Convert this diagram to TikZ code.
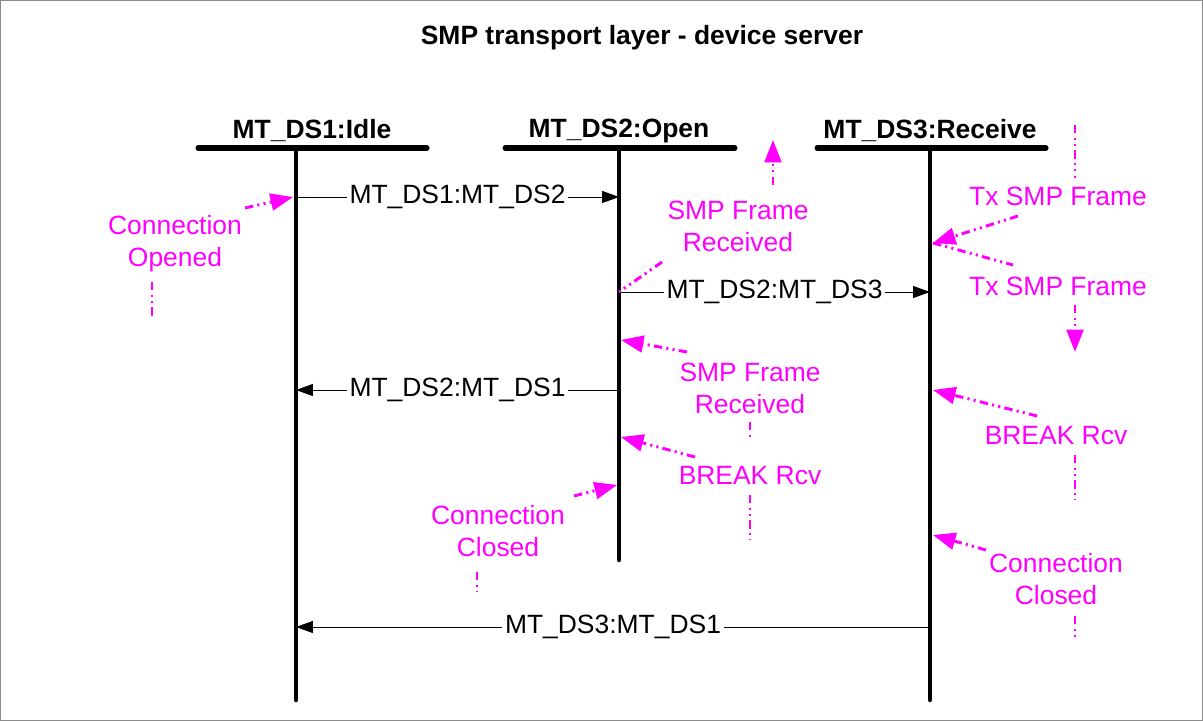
\documentclass[tikz,border=0pt]{standalone}
\usepackage{fontspec}
\setmainfont{Liberation Sans}
\usetikzlibrary{arrows.meta}
\definecolor{rosa}{RGB}{255,0,255}
\newcommand{\txt}{\fontsize{18.8}{22.7}\selectfont}
\tikzset{
	titulo/.style={font=\txt\bfseries},
	estado/.style={font=\txt\bfseries},
	barra/.style={line width=3.6pt, line cap=round},
	vida/.style={line width=3.2pt, line cap=round},
	msg/.style={line width=0.7pt, -{Triangle[length=12pt,width=8.5pt]}},
	msgtxt/.style={fill=white, inner sep=2pt, font=\txt},
	nota/.style={text=rosa, align=center, font=\txt, inner sep=1pt},
	cola/.style={rosa, line width=2.1pt, dash pattern=on 6pt off 3pt on 1.5pt off 3pt on 1.5pt off 3pt},
	flecha/.style={cola, -{Triangle[length=16pt,width=12pt]}}
}
\begin{document}
\begin{tikzpicture}[x=0.025cm, y=-0.025cm]
	\draw[black!45, line width=0.6pt] (0.5,0.5) rectangle (1202.5,720.5);
	\useasboundingbox (0,0) rectangle (1203,721);
	\node[titulo] (title) at (642,38) {SMP transport layer - device server};

	% estados
	\node[estado] (s1) at (312,131) {MT\_DS1:Idle};
	\node[estado] (s2) at (619,131) {MT\_DS2:Open};
	\node[estado] (s3) at (930,131) {MT\_DS3:Receive};
	\draw[barra] (198,148) -- (427,148);
	\draw[barra] (505,148) -- (735,148);
	\draw[barra] (817,148) -- (1046,148);
	\coordinate (v1) at (296,148); \coordinate (v1e) at (296,700);
	\coordinate (v2) at (619,148); \coordinate (v2e) at (619,560);
	\coordinate (v3) at (930,148); \coordinate (v3e) at (930,700);
	\draw[vida] (v1) -- (v1e);
	\draw[vida] (v2) -- (v2e);
	\draw[vida] (v3) -- (v3e);

	% mensajes
	\coordinate (a1) at (296,197); \coordinate (b1) at (619,197);
	\coordinate (a2) at (619,292); \coordinate (b2) at (930,292);
	\coordinate (a3) at (619,390); \coordinate (b3) at (296,390);
	\coordinate (a4) at (930,627); \coordinate (b4) at (296,627);
	\draw[msg] (a1) -- node[msgtxt] (m1) {MT\_DS1:MT\_DS2} (b1);
	\draw[msg] (a2) -- node[msgtxt] (m2) {MT\_DS2:MT\_DS3} (b2);
	\draw[msg] (a3) -- node[msgtxt] (m3) {MT\_DS2:MT\_DS1} (b3);
	\draw[msg] (a4) -- node[msgtxt] (m4) {MT\_DS3:MT\_DS1} (b4);

	% notas
	\node[nota] (n1) at (175,244) {Connection\\Opened};
	\node[nota] (n2) at (738,226) {SMP Frame\\Received};
	\node[nota] (n3) at (1058,196) {Tx SMP Frame};
	\node[nota] (n4) at (1058,286) {Tx SMP Frame};
	\node[nota] (n5) at (750,388) {SMP Frame\\Received};
	\node[nota] (n6) at (750,476) {BREAK Rcv};
	\node[nota] (n7) at (498,531) {Connection\\Closed};
	\node[nota] (n8) at (1056,436) {BREAK Rcv};
	\node[nota] (n9) at (1056,579) {Connection\\Closed};

	\coordinate (o1) at (245,208); \coordinate (t1) at (293,197);
	\coordinate (o2) at (662,262);
	\coordinate (o2u) at (773,185); \coordinate (t2u) at (773,140);
	\coordinate (o3) at (1018,216); \coordinate (t3) at (933,243);
	\coordinate (o4) at (1013,265);
	\coordinate (o4d) at (1075,305); \coordinate (t4d) at (1075,352);
	\coordinate (o5) at (687,352); \coordinate (t5) at (621,340);
	\coordinate (o6) at (695,457); \coordinate (t6) at (621,437);
	\coordinate (o7) at (574,496); \coordinate (t7) at (617,485);
	\coordinate (o8) at (1037,416); \coordinate (t8) at (933,390);
	\coordinate (o9) at (986,550); \coordinate (t9) at (933,535);

	\draw[flecha] (o1) -- (t1);
	\draw[cola] (o2) -- (a2);
	\draw[flecha] (o2u) -- (t2u);
	\draw[flecha] (o3) -- (t3);
	\draw[cola] (t3) -- (o4);
	\draw[flecha] (o4d) -- (t4d);
	\draw[flecha] (o5) -- (t5);
	\draw[flecha] (o6) -- (t6);
	\draw[flecha] (o7) -- (t7);
	\draw[flecha] (o8) -- (t8);
	\draw[flecha] (o9) -- (t9);

	% colas
	\draw[cola] (152,282) -- (152,318);
	\draw[cola] (1075,125) -- (1075,178);
	\draw[cola] (750,422) -- (750,437);
	\draw[cola] (750,495) -- (750,540);
	\draw[cola] (477,572) -- (477,592);
	\draw[cola] (1075,455) -- (1075,500);
	\draw[cola] (1075,616) -- (1075,641);
\end{tikzpicture}
\end{document}
